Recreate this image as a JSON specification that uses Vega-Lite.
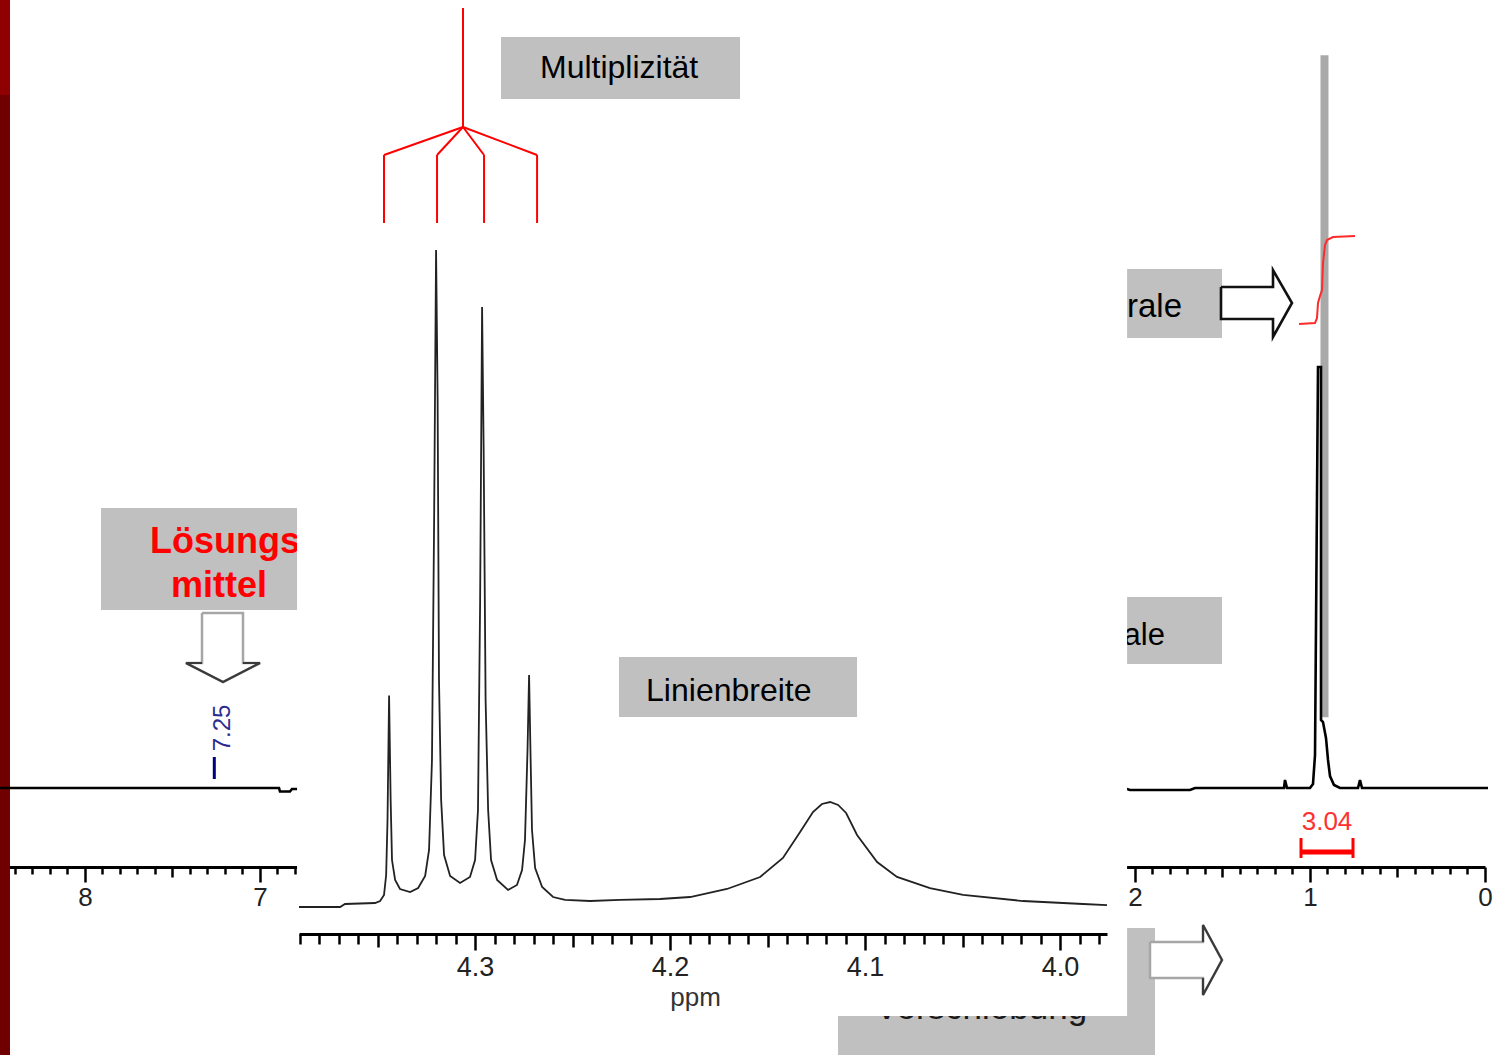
{
  "$schema": "https://vega.github.io/schema/vega-lite/v6.json",
  "width": 1500,
  "height": 1055,
  "autosize": {"type": "none"},
  "padding": 0,
  "background": "white",
  "config": {"view": {"stroke": null}, "font": "Liberation Sans", "axis": {"grid": false}},
  "resolve": {"scale": {"x": "independent", "y": "independent"}, "axis": {"x": "independent", "y": "independent"}},
  "layer": [
    {
      "encoding": {
        "x": {
          "field": "ppm", "type": "quantitative",
          "scale": {"domain": [0, 8.4857], "range": [1485, 0], "nice": false, "zero": false},
          "axis": {
            "orient": "bottom", "offset": -188, "title": null, "grid": false, "zindex": 0,
            "values": [0,0.1,0.2,0.3,0.4,0.5,0.6,0.7,0.8,0.9,1,1.1,1.2,1.3,1.4,1.5,1.6,1.7,1.8,1.9,2,2.1,2.2,2.3,2.4,2.5,2.6,2.7,2.8,2.9,3,3.1,3.2,3.3,3.4,3.5,3.6,3.7,3.8,3.9,4,4.1,4.2,4.3,4.4,4.5,4.6,4.7,4.8,4.9,5,5.1,5.2,5.3,5.4,5.5,5.6,5.7,5.8,5.9,6,6.1,6.2,6.3,6.4,6.5,6.6,6.7,6.8,6.9,7,7.1,7.2,7.3,7.4,7.5,7.6,7.7,7.8,7.9,8,8.1,8.2,8.3,8.4],
            "labelExpr": "abs(datum.value - round(datum.value)) < 0.001 ? format(datum.value, 'd') : ''",
            "tickSize": {"expr": "abs(datum.value - round(datum.value)) < 0.001 ? 15 : (abs(datum.value*2 - round(datum.value*2)) < 0.001 ? 10 : 7)"},
            "tickWidth": 2.5, "tickColor": "#000", "domainColor": "#000", "domainWidth": 3,
            "labelFontSize": 26, "labelColor": "#222", "labelPadding": 2,
            "labelFlush": false, "labelOverlap": false, "labelBound": false
          }
        },
        "y": {
          "field": "v", "type": "quantitative",
          "scale": {"domain": [0, 100], "range": [788, 58], "nice": false, "zero": false},
          "axis": null
        }
      },
      "layer": [
        {
          "data": {"values": [
            {"ppm": 8.5143, "ppm2": 8.4286, "v": 108.6, "v2": 94.93}
          ]},
          "mark": {"type": "rect", "color": "#900000"},
          "encoding": {"x2": {"field": "ppm2"}, "y2": {"field": "v2"}}
        },
        {
          "data": {"values": [
            {"ppm": 8.5143, "ppm2": 8.4286, "v": 94.93, "v2": -37.3}
          ]},
          "mark": {"type": "rect", "color": "#700000"},
          "encoding": {"x2": {"field": "ppm2"}, "y2": {"field": "v2"}}
        },
        {
          "data": {"values": [
            {"box": "Lösungsmittel", "ppm": 7.9086, "ppm2": 6.6, "v": 38.36, "v2": 24.38},
            {"box": "Integrale", "ppm": 2.8286, "ppm2": 1.5029, "v": 71.10, "v2": 61.64},
            {"box": "Signale", "ppm": 2.8286, "ppm2": 1.5029, "v": 26.16, "v2": 16.99},
            {"box": "Verschiebung", "ppm": 3.6971, "ppm2": 1.8857, "v": -19.18, "v2": -37.3}
          ]},
          "mark": {"type": "rect", "color": "#c0c0c0"},
          "encoding": {"x2": {"field": "ppm2"}, "y2": {"field": "v2"}}
        },
        {
          "data": {"values": [
            {"i": 0, "ppm": 0.9286, "v": 9.7},
            {"i": 1, "ppm": 0.9286, "v": 100.1},
            {"i": 2, "ppm": 0.9057, "v": 100.1},
            {"i": 3, "ppm": 0.9057, "v": 9.7}
          ]},
          "mark": {"type": "line", "color": "#a9a9a9", "strokeWidth": 4, "strokeJoin": "miter"},
          "encoding": {"order": {"field": "i", "type": "quantitative"}}
        },
        {
          "data": {"values": [
            {"i": 0, "ppm": 8.5143, "v": 0},
            {"i": 1, "ppm": 6.8914, "v": 0},
            {"i": 2, "ppm": 6.8857, "v": -0.48},
            {"i": 3, "ppm": 6.8286, "v": -0.48},
            {"i": 4, "ppm": 6.8171, "v": -0.14},
            {"i": 5, "ppm": 2.0457, "v": -0.14},
            {"i": 6, "ppm": 2.0286, "v": -0.27},
            {"i": 7, "ppm": 1.6857, "v": -0.27},
            {"i": 8, "ppm": 1.6571, "v": 0},
            {"i": 9, "ppm": 1.1486, "v": 0},
            {"i": 10, "ppm": 1.1429, "v": 1.1},
            {"i": 11, "ppm": 1.1314, "v": 0},
            {"i": 12, "ppm": 1.0, "v": 0},
            {"i": 13, "ppm": 0.9829, "v": 0.55},
            {"i": 14, "ppm": 0.9714, "v": 4.52},
            {"i": 15, "ppm": 0.9543, "v": 57.67},
            {"i": 16, "ppm": 0.9371, "v": 57.67},
            {"i": 17, "ppm": 0.9371, "v": 9.32},
            {"i": 18, "ppm": 0.9257, "v": 9.04},
            {"i": 19, "ppm": 0.9086, "v": 6.85},
            {"i": 20, "ppm": 0.8971, "v": 3.84},
            {"i": 21, "ppm": 0.8857, "v": 1.64},
            {"i": 22, "ppm": 0.8629, "v": 0.41},
            {"i": 23, "ppm": 0.8286, "v": 0},
            {"i": 24, "ppm": 0.7257, "v": 0},
            {"i": 25, "ppm": 0.7143, "v": 1.1},
            {"i": 26, "ppm": 0.7029, "v": 0},
            {"i": 27, "ppm": -0.0171, "v": 0}
          ]},
          "mark": {"type": "line", "color": "#000000", "strokeWidth": 2.6, "strokeJoin": "miter"},
          "encoding": {"order": {"field": "i", "type": "quantitative"}}
        },
        {
          "data": {"values": [
            {"i": 0, "ppm": 1.0629, "v": 63.56},
            {"i": 1, "ppm": 0.9714, "v": 63.70},
            {"i": 2, "ppm": 0.96, "v": 64.38},
            {"i": 3, "ppm": 0.9543, "v": 66.44},
            {"i": 4, "ppm": 0.9429, "v": 67.40},
            {"i": 5, "ppm": 0.9314, "v": 68.22},
            {"i": 6, "ppm": 0.9257, "v": 71.92},
            {"i": 7, "ppm": 0.9143, "v": 74.38},
            {"i": 8, "ppm": 0.9029, "v": 75.07},
            {"i": 9, "ppm": 0.8686, "v": 75.48},
            {"i": 10, "ppm": 0.7429, "v": 75.62}
          ]},
          "mark": {"type": "line", "color": "#ff2a2a", "strokeWidth": 2},
          "encoding": {"order": {"field": "i", "type": "quantitative"}}
        },
        {
          "data": {"values": [
            {"g": "down", "i": 0, "ppm": 7.3314, "v": 23.97},
            {"g": "down", "i": 1, "ppm": 7.0971, "v": 23.97},
            {"g": "down", "i": 2, "ppm": 7.0971, "v": 17.12},
            {"g": "down", "i": 3, "ppm": 7.0, "v": 17.12},
            {"g": "down", "i": 4, "ppm": 7.2114, "v": 14.52},
            {"g": "down", "i": 5, "ppm": 7.4229, "v": 17.12},
            {"g": "down", "i": 6, "ppm": 7.3314, "v": 17.12},
            {"g": "down", "i": 7, "ppm": 7.3314, "v": 23.97},
            {"g": "bottom", "i": 0, "ppm": 1.9143, "v": -21.10},
            {"g": "bottom", "i": 1, "ppm": 1.6114, "v": -21.10},
            {"g": "bottom", "i": 2, "ppm": 1.6114, "v": -18.77},
            {"g": "bottom", "i": 3, "ppm": 1.5029, "v": -23.56},
            {"g": "bottom", "i": 4, "ppm": 1.6114, "v": -28.36},
            {"g": "bottom", "i": 5, "ppm": 1.6114, "v": -26.03},
            {"g": "bottom", "i": 6, "ppm": 1.9143, "v": -26.03},
            {"g": "bottom", "i": 7, "ppm": 1.9143, "v": -21.10}
          ]},
          "mark": {"type": "line", "stroke": "#a6a6a6", "fill": "white", "strokeWidth": 2.5, "strokeJoin": "miter"},
          "encoding": {"detail": {"field": "g"}, "order": {"field": "i", "type": "quantitative"}}
        },
        {
          "data": {"values": [
            {"g": "down", "i": 0, "ppm": 7.3314, "v": 17.12},
            {"g": "down", "i": 1, "ppm": 7.4229, "v": 17.12},
            {"g": "down", "i": 2, "ppm": 7.2114, "v": 14.52},
            {"g": "down", "i": 3, "ppm": 7.0, "v": 17.12},
            {"g": "down", "i": 4, "ppm": 7.0971, "v": 17.12},
            {"g": "bottom", "i": 0, "ppm": 1.6114, "v": -21.10},
            {"g": "bottom", "i": 1, "ppm": 1.6114, "v": -18.77},
            {"g": "bottom", "i": 2, "ppm": 1.5029, "v": -23.56},
            {"g": "bottom", "i": 3, "ppm": 1.6114, "v": -28.36},
            {"g": "bottom", "i": 4, "ppm": 1.6114, "v": -26.03}
          ]},
          "mark": {"type": "line", "color": "#3a3a3a", "strokeWidth": 2.2, "strokeJoin": "miter"},
          "encoding": {"detail": {"field": "g"}, "order": {"field": "i", "type": "quantitative"}}
        },
        {
          "data": {"values": [
            {"i": 0, "ppm": 1.5086, "v": 68.63},
            {"i": 1, "ppm": 1.2114, "v": 68.63},
            {"i": 2, "ppm": 1.2114, "v": 70.96},
            {"i": 3, "ppm": 1.1029, "v": 66.44},
            {"i": 4, "ppm": 1.2114, "v": 61.78},
            {"i": 5, "ppm": 1.2114, "v": 64.25},
            {"i": 6, "ppm": 1.5086, "v": 64.25},
            {"i": 7, "ppm": 1.5086, "v": 68.63}
          ]},
          "mark": {"type": "line", "stroke": "#111111", "fill": "white", "strokeWidth": 2.6, "strokeJoin": "miter"},
          "encoding": {"order": {"field": "i", "type": "quantitative"}}
        },
        {
          "data": {"values": [
            {"ppm": 7.2611, "ppm2": 7.2611, "v": 4.25, "v2": 1.23}
          ]},
          "mark": {"type": "rule", "color": "#000080", "strokeWidth": 3},
          "encoding": {"x2": {"field": "ppm2"}, "y2": {"field": "v2"}}
        },
        {
          "data": {"values": [
            {"ppm": 1.0514, "ppm2": 0.7543, "v": -8.77, "v2": -8.77}
          ]},
          "mark": {"type": "rule", "color": "#ff0000", "strokeWidth": 5},
          "encoding": {"x2": {"field": "ppm2"}, "y2": {"field": "v2"}}
        },
        {
          "data": {"values": [
            {"ppm": 1.0514, "ppm2": 1.0514, "v": -6.85, "v2": -9.59},
            {"ppm": 0.7543, "ppm2": 0.7543, "v": -6.85, "v2": -9.59}
          ]},
          "mark": {"type": "rule", "color": "#ff0000", "strokeWidth": 3},
          "encoding": {"x2": {"field": "ppm2"}, "y2": {"field": "v2"}}
        },
        {
          "data": {"values": [
            {"ppm": 7.6286, "v": 32.19, "t": "Lösungs-"},
            {"ppm": 7.5086, "v": 26.16, "t": "mittel"}
          ]},
          "mark": {"type": "text", "color": "#ff0000", "fontSize": 36, "fontWeight": "bold", "align": "left", "baseline": "alphabetic"},
          "encoding": {"text": {"field": "t"}}
        },
        {
          "data": {"values": [
            {"ppm": 1.7314, "v": 64.52, "t": "Integrale"}
          ]},
          "mark": {"type": "text", "color": "#000000", "fontSize": 33, "align": "right", "baseline": "alphabetic"},
          "encoding": {"text": {"field": "t"}}
        },
        {
          "data": {"values": [
            {"ppm": 1.8286, "v": 19.59, "t": "Signale"}
          ]},
          "mark": {"type": "text", "color": "#000000", "fontSize": 31, "align": "right", "baseline": "alphabetic"},
          "encoding": {"text": {"field": "t"}}
        },
        {
          "data": {"values": [
            {"ppm": 3.4857, "v": -31.64, "t": "Verschiebung"}
          ]},
          "mark": {"type": "text", "color": "#1a1a1a", "fontSize": 35, "align": "left", "baseline": "alphabetic"},
          "encoding": {"text": {"field": "t"}}
        },
        {
          "data": {"values": [
            {"ppm": 7.2114, "v": 8.22, "t": "7.25"}
          ]},
          "mark": {"type": "text", "color": "#2b2b8f", "fontSize": 24, "angle": 270, "align": "center", "baseline": "middle"},
          "encoding": {"text": {"field": "t"}}
        },
        {
          "data": {"values": [
            {"ppm": 0.9029, "v": -4.66, "t": "3.04"}
          ]},
          "mark": {"type": "text", "color": "#ff3030", "fontSize": 26, "align": "center", "baseline": "middle"},
          "encoding": {"text": {"field": "t"}}
        }
      ]
    },
    {
      "encoding": {
        "x": {
          "field": "ppm", "type": "quantitative",
          "scale": {"domain": [3.9759, 4.3903], "range": [1107, 299], "nice": false, "zero": false},
          "axis": {
            "orient": "bottom", "offset": -121, "grid": false, "zindex": 1,
            "values": [3.98,3.99,4,4.01,4.02,4.03,4.04,4.05,4.06,4.07,4.08,4.09,4.1,4.11,4.12,4.13,4.14,4.15,4.16,4.17,4.18,4.19,4.2,4.21,4.22,4.23,4.24,4.25,4.26,4.27,4.28,4.29,4.3,4.31,4.32,4.33,4.34,4.35,4.36,4.37,4.38,4.39],
            "labelExpr": "abs(datum.value*10 - round(datum.value*10)) < 0.001 ? format(datum.value, '.1f') : ''",
            "tickSize": {"expr": "abs(datum.value*10 - round(datum.value*10)) < 0.001 ? 16 : (abs(datum.value*20 - round(datum.value*20)) < 0.001 ? 13 : 10)"},
            "tickWidth": 2.5, "tickColor": "#000", "domainColor": "#000", "domainWidth": 3,
            "labelFontSize": 27, "labelColor": "#222", "labelPadding": 4,
            "labelFlush": false, "labelOverlap": false, "labelBound": false,
            "title": "ppm", "titleFontSize": 26, "titleFontWeight": "normal", "titleColor": "#333",
            "titleX": 695, "titleY": 71, "titleBaseline": "alphabetic", "titleAlign": "center"
          }
        },
        "y": {
          "field": "v", "type": "quantitative",
          "scale": {"domain": [0, 100], "range": [907, 250], "nice": false, "zero": false},
          "axis": null
        }
      },
      "layer": [
        {
          "data": {"values": [
            {"ppm": 4.3913, "ppm2": 3.9656, "v": 138.8, "v2": -16.59}
          ]},
          "mark": {"type": "rect", "color": "#ffffff"},
          "encoding": {"x2": {"field": "ppm2"}, "y2": {"field": "v2"}}
        },
        {
          "data": {"values": [
            {"box": "Multiplizität", "ppm": 4.2867, "ppm2": 4.1641, "v": 132.42, "v2": 122.98},
            {"box": "Linienbreite", "ppm": 4.2262, "ppm2": 4.1041, "v": 38.05, "v2": 28.92}
          ]},
          "mark": {"type": "rect", "color": "#c0c0c0"},
          "encoding": {"x2": {"field": "ppm2"}, "y2": {"field": "v2"}}
        },
        {
          "data": {"values": [
            {"ppm": 4.2667, "v": 126.18, "t": "Multiplizität"},
            {"ppm": 4.2123, "v": 31.35, "t": "Linienbreite"}
          ]},
          "mark": {"type": "text", "color": "#000000", "fontSize": 32, "align": "left", "baseline": "alphabetic"},
          "encoding": {"text": {"field": "t"}}
        },
        {
          "data": {"values": [
            {"ppm": 4.3062, "ppm2": 4.3062, "v": 136.83, "v2": 118.72},
            {"ppm": 4.3062, "ppm2": 4.3467, "v": 118.72, "v2": 114.46},
            {"ppm": 4.3062, "ppm2": 4.3195, "v": 118.72, "v2": 114.46},
            {"ppm": 4.3062, "ppm2": 4.2954, "v": 118.72, "v2": 114.46},
            {"ppm": 4.3062, "ppm2": 4.2682, "v": 118.72, "v2": 114.46},
            {"ppm": 4.3467, "ppm2": 4.3467, "v": 114.46, "v2": 104.11},
            {"ppm": 4.3195, "ppm2": 4.3195, "v": 114.46, "v2": 104.11},
            {"ppm": 4.2954, "ppm2": 4.2954, "v": 114.46, "v2": 104.11},
            {"ppm": 4.2682, "ppm2": 4.2682, "v": 114.46, "v2": 104.11}
          ]},
          "mark": {"type": "rule", "color": "#ff0000", "strokeWidth": 2},
          "encoding": {"x2": {"field": "ppm2"}, "y2": {"field": "v2"}}
        },
        {
          "data": {"values": [
            {"ppm": 4.3903, "v": 0},
            {"ppm": 4.3692, "v": 0},
            {"ppm": 4.3667, "v": 0.46},
            {"ppm": 4.3513, "v": 0.61},
            {"ppm": 4.3487, "v": 0.91},
            {"ppm": 4.3467, "v": 1.83},
            {"ppm": 4.3456, "v": 4.87},
            {"ppm": 4.3449, "v": 13.24},
            {"ppm": 4.3441, "v": 32.2},
            {"ppm": 4.3433, "v": 16.29},
            {"ppm": 4.3426, "v": 7.15},
            {"ppm": 4.3410, "v": 4.11},
            {"ppm": 4.3385, "v": 2.74},
            {"ppm": 4.3333, "v": 2.28},
            {"ppm": 4.3292, "v": 2.89},
            {"ppm": 4.3256, "v": 4.72},
            {"ppm": 4.3236, "v": 8.68},
            {"ppm": 4.3221, "v": 22.37},
            {"ppm": 4.3210, "v": 58.9},
            {"ppm": 4.3200, "v": 100},
            {"ppm": 4.3192, "v": 77.17},
            {"ppm": 4.3185, "v": 34.55},
            {"ppm": 4.3174, "v": 16.29},
            {"ppm": 4.3159, "v": 7.91},
            {"ppm": 4.3128, "v": 4.72},
            {"ppm": 4.3077, "v": 3.65},
            {"ppm": 4.3026, "v": 4.57},
            {"ppm": 4.3000, "v": 7.15},
            {"ppm": 4.2985, "v": 14.76},
            {"ppm": 4.2974, "v": 46.73},
            {"ppm": 4.2964, "v": 91.32},
            {"ppm": 4.2956, "v": 69.56},
            {"ppm": 4.2946, "v": 31.51},
            {"ppm": 4.2933, "v": 14.76},
            {"ppm": 4.2918, "v": 7.15},
            {"ppm": 4.2887, "v": 4.11},
            {"ppm": 4.2831, "v": 2.59},
            {"ppm": 4.2785, "v": 3.35},
            {"ppm": 4.2759, "v": 5.63},
            {"ppm": 4.2744, "v": 10.2},
            {"ppm": 4.2731, "v": 23.9},
            {"ppm": 4.2723, "v": 35.3},
            {"ppm": 4.2715, "v": 22.37},
            {"ppm": 4.2708, "v": 11.72},
            {"ppm": 4.2692, "v": 5.94},
            {"ppm": 4.2656, "v": 3.04},
            {"ppm": 4.2600, "v": 1.52},
            {"ppm": 4.2538, "v": 1.07},
            {"ppm": 4.2410, "v": 0.91},
            {"ppm": 4.2256, "v": 1.07},
            {"ppm": 4.2051, "v": 1.22},
            {"ppm": 4.1897, "v": 1.52},
            {"ppm": 4.1708, "v": 2.74},
            {"ppm": 4.1538, "v": 4.57},
            {"ppm": 4.1421, "v": 7.46},
            {"ppm": 4.1333, "v": 11.42},
            {"ppm": 4.1267, "v": 14.46},
            {"ppm": 4.1221, "v": 15.68},
            {"ppm": 4.1179, "v": 15.98},
            {"ppm": 4.1138, "v": 15.53},
            {"ppm": 4.1097, "v": 14.31},
            {"ppm": 4.1041, "v": 10.96},
            {"ppm": 4.0938, "v": 6.85},
            {"ppm": 4.0836, "v": 4.57},
            {"ppm": 4.0667, "v": 2.89},
            {"ppm": 4.0497, "v": 1.83},
            {"ppm": 4.0190, "v": 0.91},
            {"ppm": 3.9882, "v": 0.46},
            {"ppm": 3.9759, "v": 0.3}
          ]},
          "mark": {"type": "line", "color": "#222222", "strokeWidth": 1.8},
          "encoding": {}
        }
      ]
    }
  ]
}
